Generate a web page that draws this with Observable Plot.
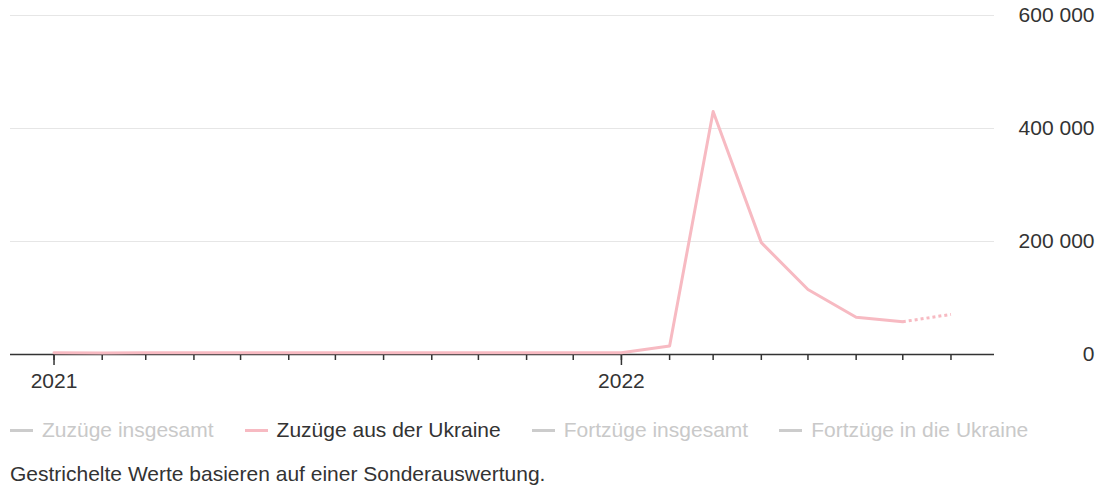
<!DOCTYPE html>
<html>
<head>
<meta charset="utf-8">
<script src="https://cdn.jsdelivr.net/npm/d3@7"></script>
<script src="https://cdn.jsdelivr.net/npm/@observablehq/plot@0.6"></script>
<style>
  body { margin: 0; background: #fff; font-family: "Liberation Sans", Arial, sans-serif; }
  #legend { display: flex; align-items: center; margin: 17px 0 0 10px; font-size: 21px; height: 26px; }
  .item { display: flex; align-items: center; margin-right: 31px; color: #c9c9c9; }
  .item.active { color: #333; }
  .sw { width: 23px; height: 3px; background: #ccc; margin-right: 9px; }
  #caption { margin: 19px 0 0 10px; font-size: 21px; color: #333; }
</style>
</head>
<body>
<div id="chart"></div>
<div id="legend"></div>
<div id="caption"></div>
<script>
// Monthly immigration from Ukraine (Zuzüge aus der Ukraine)
const months = [
  "2021-01","2021-02","2021-03","2021-04","2021-05","2021-06","2021-07","2021-08","2021-09","2021-10","2021-11","2021-12",
  "2022-01","2022-02","2022-03","2022-04","2022-05","2022-06","2022-07","2022-08"
];
const values = [
  3000,2800,3000,3000,3000,3000,3000,3000,3000,3000,3000,3000,
  3000,15000,430000,198000,115000,66000,58000,71000
];
// last segment is based on special evaluation (dotted)
const estimated = [false,false,false,false,false,false,false,false,false,false,false,false,
  false,false,false,false,false,false,true,true];
const yTicks = [0, 200000, 400000, 600000];
const yearTicks = ["2021-01", "2022-01"];
const legendLabels = ["Zuzüge insgesamt", "Zuzüge aus der Ukraine", "Fortzüge insgesamt", "Fortzüge in die Ukraine"];
const legendActive = [false, true, false, false];
const caption = "Gestrichelte Werte basieren auf einer Sonderauswertung.";

const pink = "#f7bac2";
const parse = s => new Date(s + "-01T00:00:00Z");
const data = months.map((m, i) => ({date: parse(m), value: values[i], est: estimated[i]}));
const solidData = data.slice(0, data.findIndex(d => d.est) + 1);
const dottedData = data.filter(d => d.est);

const fmt = d => d3.format(",")(d).replace(/,/g, " ");

const chart = Plot.plot({
  width: 1102,
  height: 400,
  marginLeft: 10,
  marginRight: 108,
  marginTop: 15,
  marginBottom: 46,
  style: {fontFamily: "'Liberation Sans', Arial, sans-serif", fontSize: "21px", color: "#333", background: "#fff"},
  x: {type: "utc", domain: [new Date(Date.UTC(2020, 11, 4)), new Date(Date.UTC(2022, 7, 29))]},
  y: {domain: [0, 600000]},
  marks: [
    Plot.gridY(yTicks.filter(d => d > 0), {stroke: "#e6e6e6", strokeOpacity: 1, strokeWidth: 1}),
    Plot.axisY({anchor: "right", ticks: yTicks, tickSize: 0, tickFormat: fmt, textAnchor: "end", dx: 91, fill: "#333", fontSize: 21, label: null}),
    Plot.axisX({ticks: months.map(parse), tickSize: 6, tickFormat: () => "", stroke: "#333", strokeWidth: 1.5, label: null}),
    Plot.axisX({ticks: yearTicks.map(parse), tickSize: 11, tickPadding: 8, tickFormat: d => String(d.getUTCFullYear()), stroke: "#333", strokeWidth: 1.5, fill: "#333", fontSize: 21, label: null}),
    Plot.ruleY([0], {stroke: "#333", strokeWidth: 1.5}),
    Plot.line(solidData, {x: "date", y: "value", stroke: pink, strokeWidth: 3}),
    Plot.line(dottedData, {x: "date", y: "value", stroke: pink, strokeWidth: 3, strokeDasharray: "3,3", strokeLinecap: "butt"})
  ]
});
document.getElementById("chart").appendChild(chart);

const legend = document.getElementById("legend");
legendLabels.forEach((lab, i) => {
  const it = document.createElement("div");
  it.className = "item" + (legendActive[i] ? " active" : "");
  const sw = document.createElement("div");
  sw.className = "sw";
  if (legendActive[i]) sw.style.background = pink;
  it.appendChild(sw);
  const t = document.createElement("span");
  t.textContent = lab;
  it.appendChild(t);
  legend.appendChild(it);
});
document.getElementById("caption").textContent = caption;
</script>
</body>
</html>
